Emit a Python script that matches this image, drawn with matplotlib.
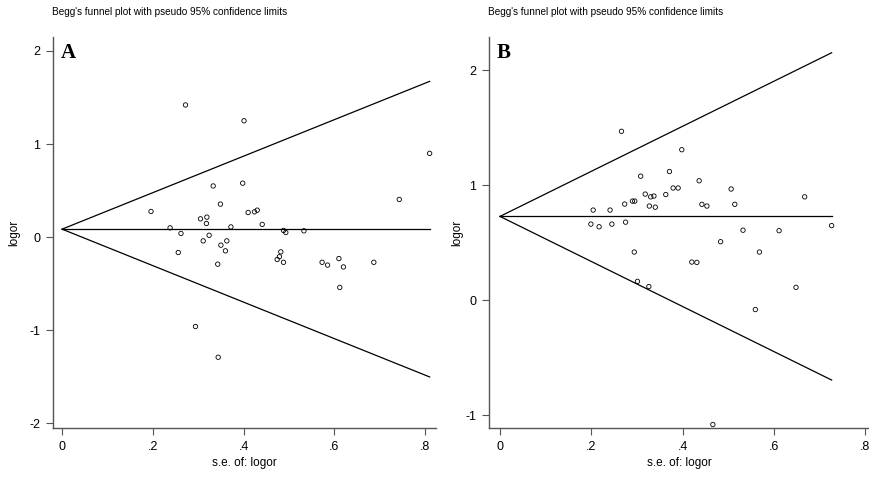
import matplotlib
matplotlib.use("Agg")
import matplotlib.pyplot as plt
import numpy as np

# Panel A data (standard error, log odds ratio)
se_a = [0.272, 0.401, 0.333, 0.398, 0.196, 0.349, 0.305, 0.319, 0.318, 0.410,
        0.424, 0.430, 0.238, 0.372, 0.441, 0.488, 0.493, 0.533, 0.262, 0.324,
        0.311, 0.350, 0.363, 0.360, 0.256, 0.482, 0.743, 0.343, 0.479, 0.474,
        0.488, 0.573, 0.585, 0.610, 0.620, 0.687, 0.612, 0.294, 0.344, 0.810]
lor_a = [1.42, 1.25, 0.55, 0.58, 0.276, 0.355, 0.197, 0.215, 0.147, 0.265,
         0.272, 0.29, 0.10, 0.11, 0.137, 0.072, 0.05, 0.068, 0.04, 0.02,
         -0.04, -0.086, -0.04, -0.147, -0.165, -0.158, 0.405, -0.29, -0.21, -0.24,
         -0.27, -0.27, -0.30, -0.23, -0.32, -0.27, -0.54, -0.96, -1.29, 0.90]
pooled_a = 0.086

# Panel B data
se_b = [0.266, 0.398, 0.308, 0.371, 0.204, 0.241, 0.273, 0.290, 0.295, 0.318,
        0.330, 0.337, 0.363, 0.379, 0.390, 0.327, 0.340, 0.199, 0.217, 0.245,
        0.275, 0.294, 0.436, 0.442, 0.453, 0.506, 0.514, 0.667, 0.532, 0.611,
        0.726, 0.483, 0.568, 0.420, 0.431, 0.301, 0.326, 0.648, 0.559, 0.466]
lor_b = [1.47, 1.31, 1.08, 1.12, 0.785, 0.785, 0.837, 0.863, 0.863, 0.924,
         0.90, 0.907, 0.92, 0.977, 0.977, 0.82, 0.81, 0.663, 0.64, 0.663,
         0.68, 0.42, 1.04, 0.835, 0.82, 0.968, 0.835, 0.90, 0.61, 0.606,
         0.65, 0.51, 0.42, 0.333, 0.33, 0.165, 0.12, 0.113, -0.08, -1.08]
pooled_b = 0.73

x_ticks = [0, 0.2, 0.4, 0.6, 0.8]
x_ticklabels = ["0", ".2", ".4", ".6", ".8"]
y_ticks_a = [-2, -1, 0, 1, 2]
y_ticks_b = [-1, 0, 1, 2]

title = "Begg's funnel plot with pseudo 95% confidence limits"
plt.rcParams['font.family'] = ["Liberation Sans", "DejaVu Sans"]

fig = plt.figure(figsize=(8.7, 4.8), dpi=100)

def panel(rect, se, lor, pooled, yticks, xlim, ylim, letter, title_x, ylab_px):
    ax = fig.add_axes(rect)
    se = np.asarray(se)
    smax = se.max()
    xs = np.array([0, smax])
    ax.plot(xs, pooled + 1.96 * xs, color="black", lw=0.9)
    ax.plot(xs, pooled - 1.96 * xs, color="black", lw=0.9)
    ax.plot(xs, [pooled, pooled], color="black", lw=0.9)
    ax.scatter(se, lor, s=10, facecolors="none", edgecolors="black",
               linewidths=0.6, zorder=3)
    ax.set_xlim(*xlim)
    ax.set_ylim(*ylim)
    ax.set_xticks(x_ticks)
    ax.set_xticklabels(x_ticklabels)
    ax.set_yticks(yticks)
    ax.set_yticklabels([str(t) for t in yticks])
    for s in ["top", "right"]:
        ax.spines[s].set_visible(False)
    for s in ["left", "bottom"]:
        ax.spines[s].set_color("#555555")
        ax.spines[s].set_linewidth(1.0)
    ax.tick_params(direction="out", length=5, width=0.8, colors="#555555",
                   labelcolor="black", labelsize=9, pad=4)
    ax.set_xlabel("s.e. of: logor", fontsize=8.5, labelpad=3)
    ax.set_ylabel("logor", fontsize=8.5)
    left_px = rect[0] * 870
    width_px = rect[2] * 870
    ax.yaxis.set_label_coords((ylab_px - left_px) / width_px, 0.5)
    ax.text(0.02, 0.985, letter, transform=ax.transAxes, fontsize=15,
            fontweight="bold", family=["Liberation Serif", "DejaVu Serif"],
            va="top", ha="left")
    fig.text(title_x, 0.985, title, fontsize=7.2, va="top", ha="left")
    return ax

panel([53/870, 1 - 428/480, (436 - 53)/870, (428 - 37)/480],
      se_a, lor_a, pooled_a, y_ticks_a, (-0.02, 0.824), (-2.05, 2.15), "A", 52/870, 20)
panel([489/870, 1 - 428/480, (870 - 489)/870, (428 - 37)/480],
      se_b, lor_b, pooled_b, y_ticks_b, (-0.024, 0.81), (-1.11, 2.29), "B", 488/870, 463)

fig.savefig("out.png", dpi=100)
